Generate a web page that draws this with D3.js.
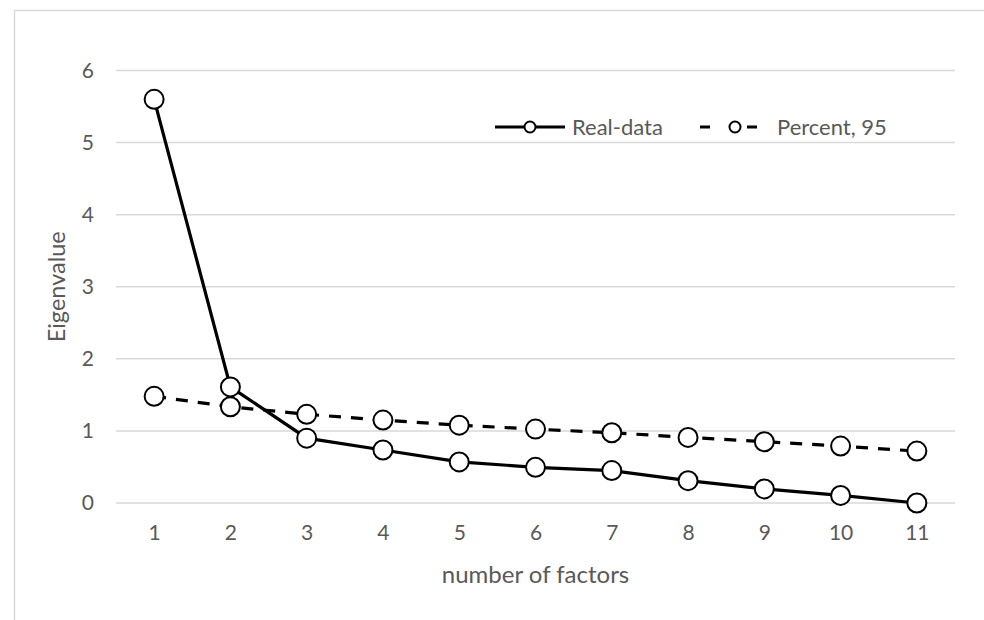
<!DOCTYPE html>
<html>
<head>
<meta charset="utf-8">
<script src="https://cdn.jsdelivr.net/npm/d3@7"></script>
<style>
  body { margin: 0; background: #fff; }
  text { font-family: Lato, "Open Sans", sans-serif; fill: #595959; }
</style>
</head>
<body>
<script>
// data
const factors = ["1", "2", "3", "4", "5", "6", "7", "8", "9", "10", "11"];
const realData = [5.60, 1.61, 0.90, 0.735, 0.57, 0.495, 0.45, 0.31, 0.195, 0.105, 0.0];
const percent95 = [1.48, 1.335, 1.23, 1.15, 1.08, 1.025, 0.975, 0.91, 0.85, 0.79, 0.72];
const yTicks = [0, 1, 2, 3, 4, 5, 6];

const W = 984, H = 620;
const margin = { top: 70.5, right: 29, bottom: 117, left: 116 };
const width = W - margin.left - margin.right;
const height = H - margin.top - margin.bottom;

const root = d3.select("body").append("svg")
  .attr("width", W)
  .attr("height", H);

// chart area border (runs off the right and bottom of the picture)
root.append("rect")
  .attr("x", 14.5).attr("y", 10.5)
  .attr("width", W + 20).attr("height", H + 20)
  .attr("fill", "none")
  .attr("stroke", "#d9d9d9")
  .attr("stroke-width", 1.5);

const svg = root.append("g")
  .attr("transform", `translate(${margin.left},${margin.top})`);

const x = d3.scalePoint()
  .domain(factors)
  .range([0, width])
  .padding(0.5);

const y = d3.scaleLinear()
  .domain([0, 6])
  .range([height, 0]);

// gridlines
svg.selectAll(".grid")
  .data(yTicks)
  .enter()
  .append("line")
  .attr("x1", 0)
  .attr("x2", width)
  .attr("y1", d => y(d))
  .attr("y2", d => y(d))
  .attr("stroke", "#d9d9d9")
  .attr("stroke-width", 1.5);

// y axis labels
const yAxis = svg.append("g")
  .call(d3.axisLeft(y).tickValues(yTicks).tickFormat(d3.format("d")).tickSize(0).tickPadding(22));
yAxis.select(".domain").remove();
yAxis.selectAll("text")
  .style("font-size", "21px")
  .style("font-family", "Lato, sans-serif")
  .attr("fill", "#595959");

// x axis labels
const xAxis = svg.append("g")
  .attr("transform", `translate(0,${height})`)
  .call(d3.axisBottom(x).tickSize(0).tickPadding(22));
xAxis.select(".domain").remove();
xAxis.selectAll("text")
  .style("font-size", "21px")
  .style("font-family", "Lato, sans-serif")
  .attr("fill", "#595959");

// axis titles
svg.append("text")
  .attr("x", width / 2)
  .attr("y", height + 80)
  .attr("text-anchor", "middle")
  .style("font-size", "24px")
  .text("number of factors");

svg.append("text")
  .attr("transform", `translate(${57 - margin.left},${height / 2}) rotate(-90)`)
  .attr("text-anchor", "middle")
  .attr("dy", "0.35em")
  .style("font-size", "23.5px")
  .text("Eigenvalue");

const line = d3.line()
  .x((d, i) => x(factors[i]))
  .y(d => y(d));

const series = [
  { name: "Percent, 95", values: percent95, dash: "12,10" },
  { name: "Real-data", values: realData, dash: null }
];

series.forEach(s => {
  svg.append("path")
    .datum(s.values)
    .attr("d", line)
    .attr("fill", "none")
    .attr("stroke", "#000")
    .attr("stroke-width", 3.2)
    .attr("stroke-dasharray", s.dash);

  svg.selectAll(null)
    .data(s.values)
    .enter()
    .append("circle")
    .attr("cx", (d, i) => x(factors[i]))
    .attr("cy", d => y(d))
    .attr("r", 9.5)
    .attr("fill", "#fff")
    .attr("stroke", "#000")
    .attr("stroke-width", 2);
});

// legend
const legend = root.append("g");
const legendItems = [
  { name: "Real-data", x0: 495, x1: 565, dash: null },
  { name: "Percent, 95", x0: 700, x1: 758, dash: "10,37" }
];
legendItems.forEach(l => {
  legend.append("line")
    .attr("x1", l.x0).attr("x2", l.x1)
    .attr("y1", 127).attr("y2", 127)
    .attr("stroke", "#000")
    .attr("stroke-width", 3.2)
    .attr("stroke-dasharray", l.dash);
  legend.append("circle")
    .attr("cx", (l.x0 + l.x1) / 2 + (l.dash ? 6 : 0))
    .attr("cy", 127)
    .attr("r", 5.5)
    .attr("fill", "#fff")
    .attr("stroke", "#000")
    .attr("stroke-width", 2);
  legend.append("text")
    .attr("x", l.x1 + (l.dash ? 19 : 7))
    .attr("y", 127)
    .attr("dy", "0.35em")
    .style("font-size", "22px")
    .text(l.name);
});
</script>
</body>
</html>
